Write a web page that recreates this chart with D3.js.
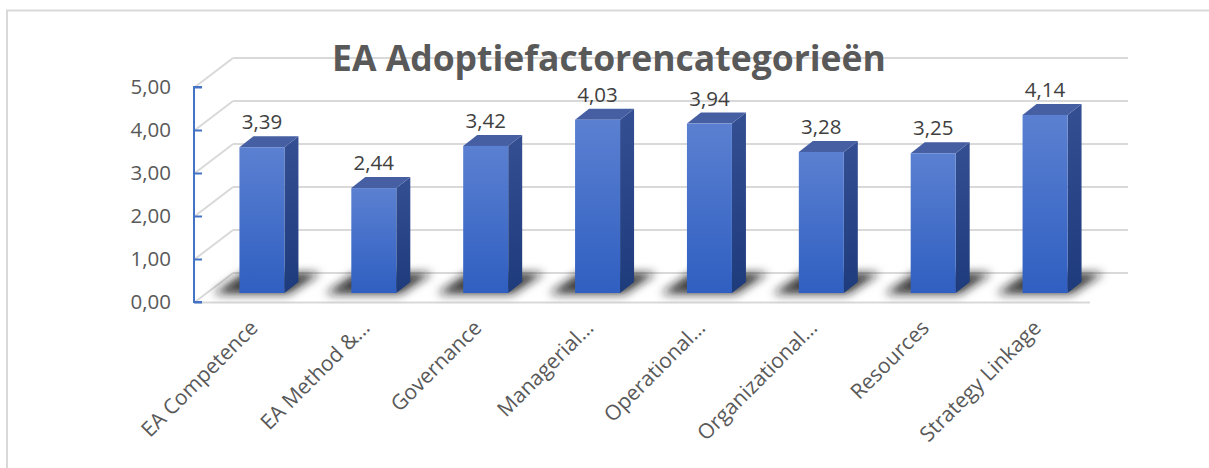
<!DOCTYPE html>
<html><head><meta charset="utf-8">
<script src="https://cdn.jsdelivr.net/npm/d3@7"></script>
<style>html,body{margin:0;padding:0;background:#fff;overflow:hidden}</style>
</head><body><svg id="c" width="1209" height="468"></svg>
<script>
const title = "EA Adoptiefactorencategorieën";
const categories = ["EA Competence","EA Method &…","Governance","Managerial…","Operational…","Organizational…","Resources","Strategy Linkage"];
const values = [3.39, 2.44, 3.42, 4.03, 3.94, 3.28, 3.25, 4.14];
const yTicks = [0,1,2,3,4,5];
const fmt = v => d3.format(".2f")(v).replace(".", ",");

const svg = d3.select("#c");
const font = "'Open Sans', sans-serif";
// frame
svg.append("rect").attr("x",7).attr("y",10.5).attr("width",1240).attr("height",500)
  .attr("fill","#fff").attr("stroke","#d9d9d9").attr("stroke-width",2);

const depthX = 38, depthY = -29;
const floorY = 302;
const x = d3.scaleBand().domain(categories).range([195,1090]);
const y = d3.scaleLinear().domain([0,5]).range([floorY, floorY-215]);
const barBase = 293, barShift = 11, barW = 45, bdx = 14, bdy = -11;
const yb = d3.scaleLinear().domain([0,5]).range([barBase, barBase-215]);

const defs = svg.append("defs");
const gF = defs.append("linearGradient").attr("id","gf").attr("x1",0).attr("y1",0).attr("x2",0).attr("y2",1);
gF.append("stop").attr("offset","0%").attr("stop-color","#5b80d1");
gF.append("stop").attr("offset","100%").attr("stop-color","#2f5fc1");
const gS = defs.append("linearGradient").attr("id","gs").attr("x1",0).attr("y1",0).attr("x2",0).attr("y2",1);
gS.append("stop").attr("offset","0%").attr("stop-color","#344f92");
gS.append("stop").attr("offset","100%").attr("stop-color","#1e3b7c");
defs.append("filter").attr("id","blur").attr("x","-50%").attr("y","-50%").attr("width","200%").attr("height","200%")
  .append("feGaussianBlur").attr("stdDeviation",5);

// gridlines on back wall + side wall diagonals
const grid = svg.append("g").attr("stroke","#d9d9d9").attr("stroke-width",2).attr("fill","none");
yTicks.forEach(t => {
  grid.append("line").attr("x1",195+depthX).attr("x2",1128).attr("y1",y(t)+depthY).attr("y2",y(t)+depthY);
  grid.append("line").attr("x1",195).attr("y1",y(t)).attr("x2",195+depthX).attr("y2",y(t)+depthY);
});
// floor front edge
grid.append("line").attr("x1",195).attr("x2",1090).attr("y1",floorY+0.5).attr("y2",floorY+0.5);

// shadows
const sh = svg.append("g").attr("filter","url(#blur)");
categories.forEach((c,i) => {
  const l = x(c) + (x.bandwidth()-barW)/2 + barShift;
  sh.append("polygon").attr("points",[
    [l-26, barBase+1],[l+barW+4, barBase+1],[l+barW+36, barBase-20],[l+4, barBase-20]
  ].map(p=>p.join(",")).join(" ")).attr("fill","#1a1a1a").attr("opacity",0.85);
});

// bars
const bars = svg.append("g");
categories.forEach((c,i) => {
  const l = x(c) + (x.bandwidth()-barW)/2 + barShift;
  const top = yb(values[i]);
  const g = bars.append("g");
  g.append("polygon").attr("points",[[l+barW,top],[l+barW+bdx,top+bdy],[l+barW+bdx,barBase+bdy],[l+barW,barBase]].map(p=>p.join(",")).join(" "))
    .attr("fill","url(#gs)");
  g.append("polygon").attr("points",[[l,top],[l+bdx,top+bdy],[l+barW+bdx,top+bdy],[l+barW,top]].map(p=>p.join(",")).join(" "))
    .attr("fill","#465fa3");
  g.append("rect").attr("x",l).attr("y",top).attr("width",barW).attr("height",barBase-top).attr("fill","url(#gf)");
  svg.append("text").attr("x",l+barW/2).attr("y",top-18).attr("text-anchor","middle")
    .attr("font-family",font).attr("font-size",20.5).attr("fill","#404040").text(fmt(values[i]));
});

// y axis
const ax = svg.append("g").attr("transform","translate(194,0)")
  .call(d3.axisRight(y).tickValues(yTicks).tickSize(8).tickFormat(""));
ax.selectAll("path,line").attr("stroke","#4472c4").attr("stroke-width",2);
ax.select(".domain").attr("d",`M8,${y(5)}H0V${y(0)}H8`);
yTicks.forEach(t => {
  svg.append("text").attr("x",171).attr("y",y(t)).attr("dy","0.35em").attr("text-anchor","end")
    .attr("font-family",font).attr("font-size",20.5).attr("fill","#595959").text(fmt(t));
});

// category labels
categories.forEach(c => {
  const cx = x(c) + x.bandwidth()/2 + 3;
  svg.append("text").attr("transform",`translate(${cx},324) rotate(-45)`).attr("dy","0.35em")
    .attr("text-anchor","end").attr("font-family",font).attr("font-size",21).attr("fill","#595959").text(c);
});

// title
svg.append("text").attr("x",609).attr("y",71).attr("text-anchor","middle").attr("font-family",font)
  .attr("font-weight",700).attr("font-size",35.5).attr("fill","#595959").text(title);
</script></body></html>
